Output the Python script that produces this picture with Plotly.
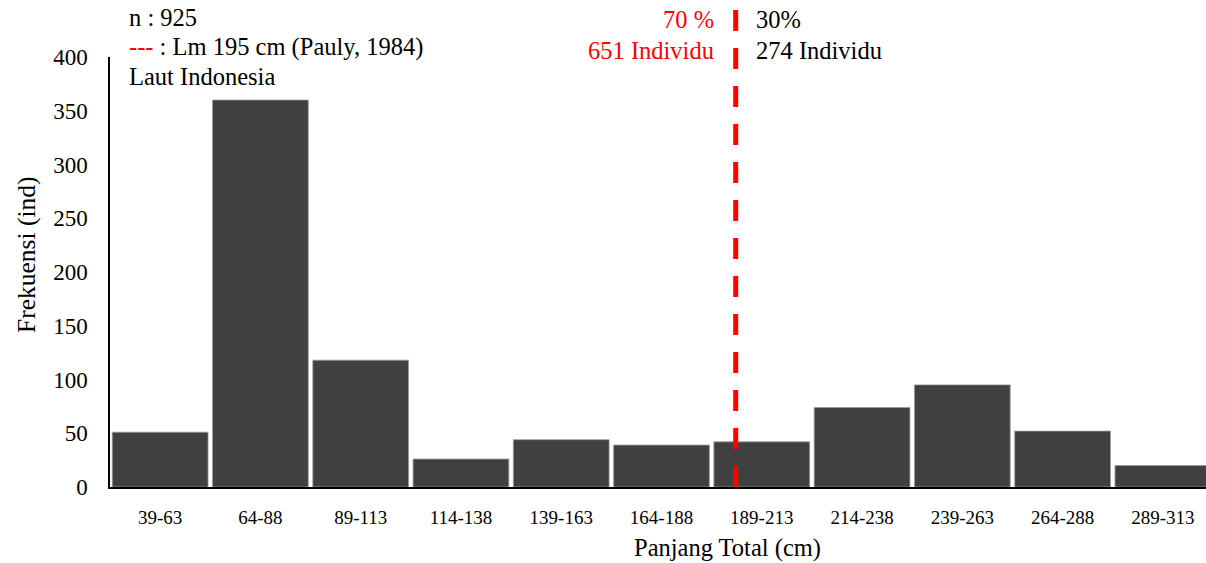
import plotly.graph_objects as go

# Length classes (cm) and fish counts per class
categories = ["39-63", "64-88", "89-113", "114-138", "139-163", "164-188",
              "189-213", "214-238", "239-263", "264-288", "289-313"]
frequency = [51, 360, 118, 26, 44, 39, 42, 74, 95, 52, 20]

y_ticks = [0, 50, 100, 150, 200, 250, 300, 350, 400]

n_total = 925
lm_cm = 195            # length at first maturity (Pauly, 1984)
class_start = 39       # lower edge of first class
class_width = 25       # class interval (cm)
below_pct, below_n = 70, 651
above_pct, above_n = 30, 274

FONT = "'Times New Roman', 'Liberation Serif', 'DejaVu Serif', serif"
W, H = 1206, 563
PL, PR, PT, PB = 110, 1206, 57, 487      # plot area in pixels
X_RANGE = [-0.5, 10.43]
TXT = 24.5


def px_x(px):
    return (px - PL) / (PR - PL)


def px_y(py):
    return (PB - py) / (PB - PT)


def serif(size, color="black"):
    return dict(family=FONT, size=size, color=color)


fig = go.Figure(
    go.Bar(
        x=categories,
        y=frequency,
        marker=dict(color="#404040", line=dict(color="#9a9a9a", width=0.8)),
        width=0.955,
        hoverinfo="x+y",
    )
)

# Lm marker position on the class axis
lm_pos = (lm_cm - class_start) / class_width - 0.5
lm_paper = (lm_pos - X_RANGE[0]) / (X_RANGE[1] - X_RANGE[0])

fig.add_shape(
    type="line", xref="paper", yref="paper",
    x0=lm_paper, x1=lm_paper, y0=px_y(10), y1=0,
    line=dict(color="#ff0000", width=5, dash="21px,17px"),
)

annotations = [
    dict(text=f"n : {n_total}", x=px_x(127), y=px_y(17), xanchor="left",
         font=serif(TXT)),
    dict(text=f"<span style='color:#ff0000'>---</span> : Lm {lm_cm} cm (Pauly, 1984)",
         x=px_x(127), y=px_y(47), xanchor="left", font=serif(TXT)),
    dict(text="Laut Indonesia", x=px_x(127), y=px_y(77), xanchor="left",
         font=serif(TXT)),
    dict(text=f"{below_pct} %", x=lm_paper, xshift=-20, y=px_y(20), xanchor="right",
         font=serif(TXT, "#ff0000")),
    dict(text=f"{below_n} Individu", x=lm_paper, xshift=-20, y=px_y(50), xanchor="right",
         font=serif(TXT, "#ff0000")),
    dict(text=f"{above_pct}%", x=lm_paper, xshift=18, y=px_y(20), xanchor="left",
         font=serif(TXT)),
    dict(text=f"{above_n} Individu", x=lm_paper, xshift=18, y=px_y(50), xanchor="left",
         font=serif(TXT)),
    dict(text="Panjang Total (cm)", x=px_x(727), y=px_y(548), xanchor="center",
         font=serif(TXT)),
    dict(text="Frekuensi (ind)", x=px_x(27), y=px_y(255), textangle=-90,
         xanchor="center", font=serif(25.5)),
]
for a in annotations:
    a.update(xref="paper", yref="paper", showarrow=False, yanchor="middle")

fig.update_layout(
    width=W, height=H,
    margin=dict(l=PL, r=W - PR, t=PT, b=H - PB, autoexpand=False),
    paper_bgcolor="white", plot_bgcolor="white",
    font=serif(20),
    showlegend=False,
    annotations=annotations,
    xaxis=dict(
        type="category", range=X_RANGE, showgrid=False, zeroline=False,
        showline=True, linecolor="black", linewidth=2,
        ticks="", ticklabelstandoff=12, tickfont=serif(19),
    ),
    yaxis=dict(
        range=[0, 400], tickvals=y_ticks, showgrid=False, zeroline=False,
        showline=True, linecolor="black", linewidth=1.5,
        ticks="", ticklabelstandoff=16, tickfont=serif(23),
    ),
)

fig.write_html("out.html")
